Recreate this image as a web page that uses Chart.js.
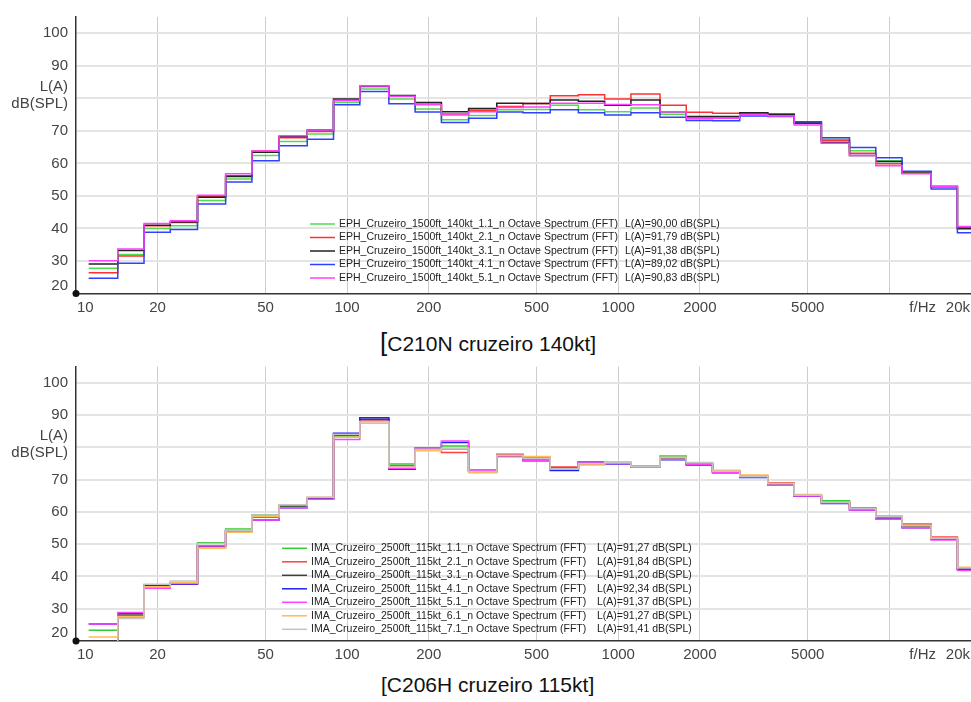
<!DOCTYPE html>
<html>
<head>
<meta charset="utf-8">
<script src="https://cdn.jsdelivr.net/npm/chart.js@4.4.1/dist/chart.umd.min.js"></script>
<style>
  body { margin: 0; background: #fff; width: 971px; height: 702px; position: relative; overflow: hidden; font-family: "Liberation Sans", Arial, sans-serif; }
  canvas { position: absolute; left: 0; }
  .caption { position: absolute; font-size: 21px; line-height: 24px; color: #111; white-space: nowrap; }
</style>
</head>
<body>
<canvas id="topChart" width="971" height="320" style="top:0"></canvas>
<div class="caption" style="left:380px;top:330px"><span style="font-size:26px">[</span>C210N cruzeiro 140kt]</div>
<canvas id="bottomChart" width="971" height="320" style="top:350px"></canvas>
<div class="caption" style="left:381px;top:673px">[C206H cruzeiro 115kt]</div>
<script>
// 1/3 octave band centre frequencies
const bandsHz = [12.5, 16, 20, 25, 31.5, 40, 50, 63, 80, 100, 125, 160, 200, 250, 315, 400, 500, 630, 800, 1000,
  1250, 1600, 2000, 2500, 3150, 4000, 5000, 6300, 8000, 10000, 12500, 16000, 20000]

const xTickValues = [10, 20, 50, 100, 200, 500, 1000, 2000, 5000, 10000, 20000]
const xTickLabels = ['10', '20', '50', '100', '200', '500', '1000', '2000', '5000', '', '20k']
const xAxisTitle = 'f/Hz'
const yTickValues = [20, 30, 40, 50, 60, 70, 80, 90, 100]
const yTickLabels = ['20', '30', '40', '50', '60', '70', ['L(A)', 'dB(SPL)'], '90', '100']

// C210N cruzeiro 140kt
const eph11 = [27.8, 32.0, 40.0, 40.8, 48.6, 55.2, 62.4, 66.7, 69.0, 78.7, 82.9, 79.8, 76.7, 73.4, 74.7, 76.5, 76.6, 77.9, 76.5, 75.9,
  77.0, 75.1, 74.0, 74.0, 75.2, 74.8, 72.5, 67.4, 63.9, 60.8, 57.2, 52.9, 39.8]
const eph21 = [26.4, 31.5, 40.8, 41.8, 49.8, 56.2, 63.8, 67.9, 69.8, 79.3, 83.8, 80.6, 78.2, 75.2, 76.3, 77.5, 78.4, 80.8, 81.1, 79.8,
  81.3, 77.9, 75.7, 75.4, 75.3, 75.1, 72.3, 67.0, 63.1, 59.9, 57.0, 52.8, 40.2]
const eph31 = [29.1, 33.2, 41.0, 42.0, 49.6, 56.0, 63.4, 68.3, 70.3, 79.8, 83.6, 80.9, 78.7, 75.9, 76.9, 78.5, 78.4, 79.5, 79.1, 77.9,
  79.5, 75.9, 74.4, 74.4, 75.6, 75.1, 72.4, 66.4, 62.4, 60.6, 57.0, 52.9, 40.0]
const eph41 = [24.7, 29.3, 38.8, 39.7, 47.5, 54.3, 60.8, 65.4, 67.4, 78.0, 82.1, 78.3, 75.8, 72.6, 73.9, 75.8, 75.6, 76.5, 75.6, 74.9,
  75.6, 74.2, 73.2, 73.1, 74.6, 74.4, 72.8, 67.9, 64.9, 61.7, 57.6, 52.1, 38.7]
const eph51 = [30.1, 33.7, 41.5, 42.4, 50.2, 56.8, 63.8, 68.5, 70.3, 79.3, 83.8, 80.6, 78.0, 74.9, 75.9, 77.2, 77.3, 78.5, 78.5, 78.1,
  78.0, 75.9, 73.7, 73.9, 75.0, 74.6, 71.8, 66.2, 62.4, 59.3, 56.8, 53.0, 40.6]
const ephNames = ['EPH_Cruzeiro_1500ft_140kt_1.1_n Octave Spectrum (FFT)', 'EPH_Cruzeiro_1500ft_140kt_2.1_n Octave Spectrum (FFT)',
  'EPH_Cruzeiro_1500ft_140kt_3.1_n Octave Spectrum (FFT)', 'EPH_Cruzeiro_1500ft_140kt_4.1_n Octave Spectrum (FFT)',
  'EPH_Cruzeiro_1500ft_140kt_5.1_n Octave Spectrum (FFT)']
const ephLevels = ['L(A)=90,00 dB(SPL)', 'L(A)=91,79 dB(SPL)', 'L(A)=91,38 dB(SPL)', 'L(A)=89,02 dB(SPL)', 'L(A)=90,83 dB(SPL)']
const ephColors = ['#4fdc4f', '#ff3030', '#222222', '#3040ff', '#ff40ff']

// C206H cruzeiro 115kt
const ima11 = [23.3, 28.3, 37.1, 38.0, 50.4, 54.7, 59.0, 61.8, 64.2, 83.5, 88.2, 74.8, 79.5, 80.4, 72.5, 77.4, 76.5, 73.3, 75.0, 75.2,
  74.0, 77.3, 75.0, 72.6, 71.0, 68.8, 65.1, 63.4, 61.0, 58.3, 55.8, 51.8, 42.5]
const ima21 = [18.5, 28.0, 36.8, 38.0, 49.2, 54.1, 58.5, 62.0, 64.2, 84.0, 88.4, 74.3, 79.5, 78.4, 72.5, 77.8, 76.8, 73.9, 74.8, 75.2,
  74.0, 76.6, 75.0, 72.6, 71.0, 69.0, 65.1, 63.0, 61.3, 58.6, 56.2, 52.2, 42.6]
const ima31 = [18.5, 27.5, 37.3, 38.0, 49.5, 54.1, 58.3, 61.8, 64.2, 83.8, 88.7, 73.2, 79.5, 79.5, 72.5, 77.4, 76.4, 73.5, 75.4, 75.2,
  74.0, 76.4, 74.8, 72.4, 70.8, 68.6, 65.0, 62.9, 60.9, 58.1, 55.6, 51.7, 42.4]
const ima41 = [25.3, 28.5, 37.0, 37.6, 49.5, 54.0, 57.5, 61.3, 63.9, 84.3, 89.1, 73.5, 79.8, 81.5, 72.9, 77.1, 75.8, 72.8, 75.4, 74.8,
  73.8, 76.1, 74.5, 72.1, 70.6, 68.2, 64.8, 62.6, 60.6, 57.7, 55.1, 51.5, 42.2]
const ima51 = [25.3, 28.8, 36.3, 37.8, 49.5, 54.0, 57.5, 61.3, 63.9, 82.4, 88.0, 73.5, 79.8, 81.9, 72.9, 77.4, 75.8, 73.3, 75.4, 75.0,
  73.8, 76.3, 74.7, 72.1, 70.8, 68.2, 64.9, 62.7, 60.6, 57.7, 55.1, 51.3, 41.8]
const ima61 = [21.2, 27.5, 36.8, 38.0, 48.7, 53.7, 58.5, 62.2, 64.5, 83.1, 87.4, 73.8, 78.9, 79.7, 72.1, 77.4, 77.1, 73.3, 74.5, 75.5,
  74.0, 76.8, 75.2, 72.9, 71.4, 68.8, 65.4, 63.0, 61.0, 58.6, 55.8, 51.8, 42.8]
const ima71 = [17.0, 27.0, 37.6, 38.6, 50.2, 54.3, 59.0, 62.2, 64.5, 84.0, 88.0, 73.8, 79.4, 79.5, 72.5, 77.5, 76.6, 73.3, 75.0, 75.2,
  74.0, 76.8, 75.3, 72.6, 71.0, 68.8, 65.1, 63.0, 61.0, 58.5, 55.8, 51.8, 42.6]
const imaNames = ['IMA_Cruzeiro_2500ft_115kt_1.1_n Octave Spectrum (FFT)', 'IMA_Cruzeiro_2500ft_115kt_2.1_n Octave Spectrum (FFT)',
  'IMA_Cruzeiro_2500ft_115kt_3.1_n Octave Spectrum (FFT)', 'IMA_Cruzeiro_2500ft_115kt_4.1_n Octave Spectrum (FFT)',
  'IMA_Cruzeiro_2500ft_115kt_5.1_n Octave Spectrum (FFT)', 'IMA_Cruzeiro_2500ft_115kt_6.1_n Octave Spectrum (FFT)',
  'IMA_Cruzeiro_2500ft_115kt_7.1_n Octave Spectrum (FFT)']
const imaLevels = ['L(A)=91,27 dB(SPL)', 'L(A)=91,84 dB(SPL)', 'L(A)=91,20 dB(SPL)', 'L(A)=92,34 dB(SPL)',
  'L(A)=91,37 dB(SPL)', 'L(A)=91,27 dB(SPL)', 'L(A)=91,41 dB(SPL)']
const imaColors = ['#33cc33', '#ff4040', '#404040', '#2020f0', '#ff40ff', '#ffbb55', '#c4c4c4']

const FONT = '"Liberation Sans", Arial, sans-serif'

// each band is drawn from its lower edge to its upper edge
const stepData = (values) => {
  const pts = values.map((v, i) => ({ x: bandsHz[i] * Math.pow(2, -1 / 6), y: v }))
  pts.push({ x: bandsHz[bandsHz.length - 1] * Math.pow(2, 1 / 6), y: values[values.length - 1] })
  return pts
}

const spectrumLabels = {
  id: 'spectrumLabels',
  afterDraw(chart, args, opts) {
    const ctx = chart.ctx
    const area = chart.chartArea
    const xs = chart.scales.x
    const ys = chart.scales.y
    ctx.save()
    ctx.fillStyle = '#444'
    ctx.font = '15px ' + FONT
    ctx.textBaseline = 'middle'

    ctx.textAlign = 'right'
    yTickValues.forEach((v, i) => {
      const py = ys.getPixelForValue(v)
      const label = yTickLabels[i]
      if (Array.isArray(label)) {
        ctx.fillText(label[0], area.left - 8, py - 11)
        ctx.fillText(label[1], area.left - 8, py + 6)
      } else {
        ctx.fillText(label, area.left - 8, v === 20 ? py - 8 : py)
      }
    })

    const ty = area.bottom + 14
    xTickValues.forEach((v, i) => {
      const px = xs.getPixelForValue(v)
      if (i === 0) { ctx.textAlign = 'left'; ctx.fillText(xTickLabels[i], px + 1, ty) }
      else if (i === xTickValues.length - 1) { ctx.textAlign = 'right'; ctx.fillText(xTickLabels[i], area.right - 1, ty) }
      else { ctx.textAlign = 'center'; ctx.fillText(xTickLabels[i], px, ty) }
    })
    ctx.textAlign = 'right'
    ctx.fillText(xAxisTitle, area.right - 35, ty)

    ctx.fillStyle = '#111'
    ctx.beginPath()
    ctx.arc(area.left, area.bottom, 3.5, 0, Math.PI * 2)
    ctx.fill()

    // legend inside the plot
    ctx.font = '10.5px ' + FONT
    ctx.textAlign = 'left'
    const lx = area.left + opts.legendX
    chart.data.datasets.forEach((ds, i) => {
      const ly = area.bottom - opts.legendY + i * 13.5
      ctx.strokeStyle = ds.borderColor
      ctx.lineWidth = 1.5
      ctx.beginPath()
      ctx.moveTo(lx, ly)
      ctx.lineTo(lx + 25, ly)
      ctx.stroke()
      ctx.fillStyle = '#222'
      ctx.fillText(ds.label, lx + 29, ly)
      ctx.fillText(opts.levels[i], lx + 315, ly)
    })
    ctx.restore()
  }
}

const makeChart = (id, series, names, levels, colors, padding, legendX, legendY) => {
  new Chart(document.getElementById(id), {
    type: 'line',
    data: {
      datasets: series.map((s, i) => ({
        label: names[i],
        data: stepData(s),
        borderColor: colors[i],
        borderWidth: 1.5,
        pointRadius: 0,
        stepped: true,
        fill: false,
        order: -i
      }))
    },
    options: {
      responsive: false,
      animation: false,
      layout: { padding },
      plugins: {
        legend: { display: false },
        tooltip: { enabled: false },
        spectrumLabels: { levels, legendX, legendY }
      },
      scales: {
        x: {
          type: 'logarithmic',
          min: 10,
          max: 20000,
          afterBuildTicks: (scale) => { scale.ticks = xTickValues.map(v => ({ value: v })) },
          ticks: { display: false },
          grid: {
            drawTicks: false,
            lineWidth: 1,
            color: (c) => c.tick && c.tick.value === 10 ? 'rgba(0,0,0,0)' : '#cdcdcd'
          },
          border: { color: '#333', width: 1.5 }
        },
        y: {
          min: 20,
          max: 105,
          afterBuildTicks: (scale) => { scale.ticks = yTickValues.map(v => ({ value: v })) },
          ticks: { display: false },
          grid: {
            drawTicks: false,
            lineWidth: 2,
            color: (c) => c.tick && c.tick.value === 20 ? 'rgba(0,0,0,0)' : '#e4e4e4'
          },
          border: { color: '#333', width: 1.5 }
        }
      }
    },
    plugins: [spectrumLabels]
  })
}

makeChart('topChart', [eph11, eph21, eph31, eph41, eph51], ephNames, ephLevels, ephColors,
  { left: 76, right: 0, top: 17, bottom: 26.5 }, 234, 69.5)
makeChart('bottomChart', [ima11, ima21, ima31, ima41, ima51, ima61, ima71], imaNames, imaLevels, imaColors,
  { left: 76, right: 0, top: 16.5, bottom: 29 }, 206, 92.7)
</script>
</body>
</html>
